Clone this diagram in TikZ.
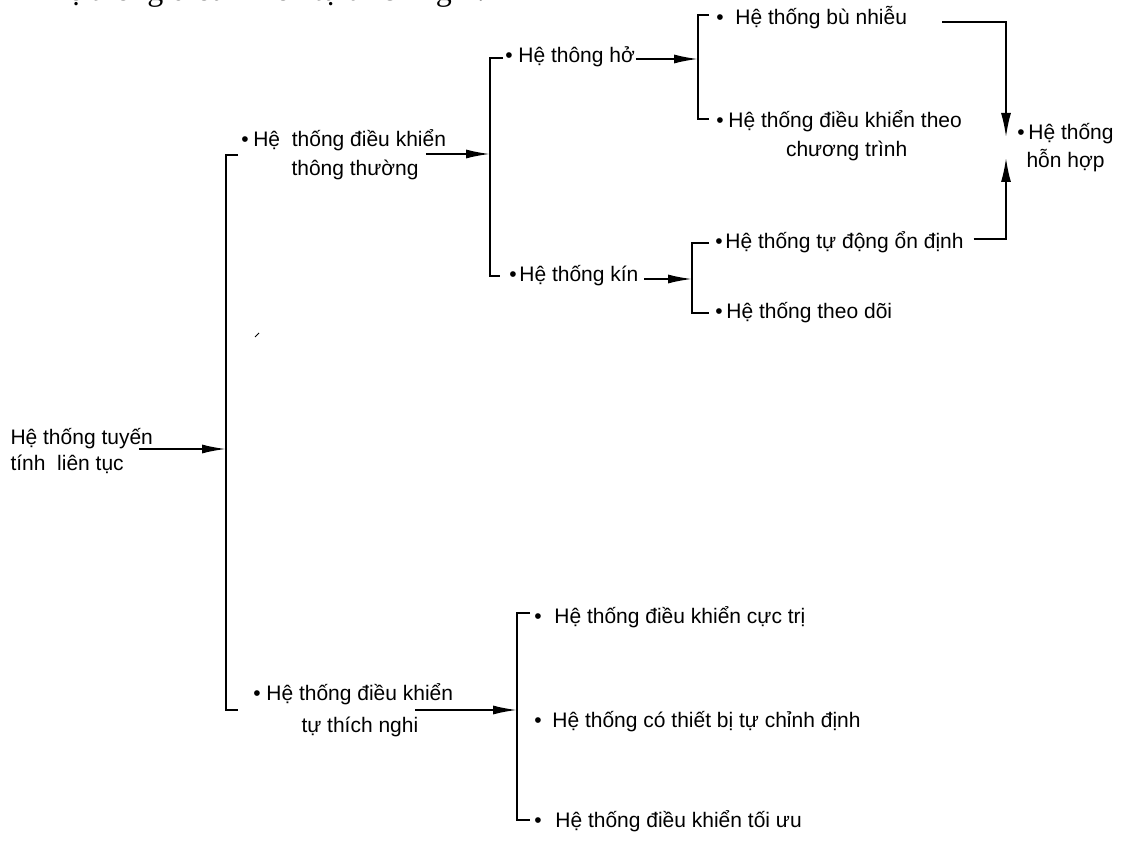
\documentclass[tikz,border=0pt]{standalone}
\usepackage{fontspec}
\setmainfont{Liberation Sans}
\newfontfamily\headfont{Liberation Serif}
\usetikzlibrary{arrows.meta}
\begin{document}
\begin{tikzpicture}[x=1pt,y=-1pt,
  lbl/.style={anchor=base west, inner sep=0pt, outer sep=0pt, font=\fontsize{21}{26}\selectfont},
  wire/.style={line width=1.7pt},
  brk/.style={line width=2pt},
  arr/.style={wire, -{Latex[length=24pt,width=9pt]}},
  varr/.style={wire, -{Latex[length=24pt,width=10pt]}},
  speck/.style={line width=1pt}]
\useasboundingbox (0,0) rectangle (1122,842);
\fill[white] (0,0) rectangle (1122,842);
% heading, cut off by the top edge as in the reference
\begin{scope}
\clip (0,0) rectangle (1122,842);
\node[anchor=base west, inner sep=0pt, font=\headfont\fontsize{32}{38}\selectfont] (head) at (45,1) {Hệ thống điều khiển tự thích nghi.};
\end{scope}
% labels
\node[lbl] (r1) at (10.5,444) {Hệ thống tuyến};
\node[lbl] (r2) at (10.5,470) {tính\ \ liên tục};
\node[lbl] (c1) at (241.3,147) {•\hspace{4.7pt}Hệ\ \ thống điều khiển};
\node[lbl] (c2) at (291.5,176) {thông thường};
\node[lbl] (h) at (505.3,63) {•\hspace{5.7pt}Hệ thông hở};
\node[lbl] (k) at (509.3,282) {•\hspace{2.7pt}Hệ thống kín};
\node[lbl] (b) at (716.3,25) {•\hspace{11.7pt}Hệ thống bù nhiễu};
\node[lbl] (p1) at (716.3,128) {•\hspace{4.7pt}Hệ thống điều khiển theo};
\node[lbl] (p2) at (786,157) {chương trình};
\node[lbl] (t) at (715.3,249) {•\hspace{2.7pt}Hệ thống tự động ổn định};
\node[lbl] (d) at (715.3,319) {•\hspace{3.7pt}Hệ thống theo dõi};
\node[lbl] (m1) at (1017.3,140) {•\hspace{3.7pt}Hệ thống};
\node[lbl] (m2) at (1026.5,168) {hỗn hợp};
\node[lbl] (a1) at (253.3,700) {•\hspace{5.7pt}Hệ thống điều khiển};
\node[lbl] (a2) at (301.5,732) {tự thích nghi};
\node[lbl] (e1) at (534.3,623) {•\hspace{12.7pt}Hệ thống điều khiển cực trị};
\node[lbl] (e2) at (534.3,727) {•\hspace{10.7pt}Hệ thống có thiết bị tự chỉnh định};
\node[lbl] (e3) at (534.3,827) {•\hspace{13.7pt}Hệ thống điều khiển tối ưu};
% main bracket
\coordinate (M1) at (226,155); \coordinate (M2) at (226,710);
\coordinate (M1t) at (238,155); \coordinate (M2t) at (238,710);
\draw[brk] (M1t) -- (M1) -- (M2) -- (M2t);
% bracket of the usual systems
\coordinate (B1) at (490,58); \coordinate (B1b) at (490,276);
\coordinate (B1t) at (503,58); \coordinate (B1bt) at (500,276);
\draw[brk] (B1t) -- (B1) -- (B1b) -- (B1bt);
% bracket of the open systems
\coordinate (B2) at (698,15); \coordinate (B2b) at (698,119);
\coordinate (B2t) at (709,15); \coordinate (B2bt) at (709,119);
\draw[brk] (B2t) -- (B2) -- (B2b) -- (B2bt);
% bracket of the closed systems
\coordinate (B3) at (692,243); \coordinate (B3b) at (692,313);
\coordinate (B3t) at (709,243); \coordinate (B3bt) at (709,313);
\draw[brk] (B3t) -- (B3) -- (B3b) -- (B3bt);
% bracket of the adaptive systems
\coordinate (B4) at (517,613); \coordinate (B4b) at (517,820);
\coordinate (B4t) at (530,613); \coordinate (B4bt) at (530,820);
\draw[brk] (B4t) -- (B4) -- (B4b) -- (B4bt);
% arrows into the brackets
\coordinate (rs) at ([xshift=-14pt,yshift=-5pt]r1.base east);
\draw[arr] (rs) -- (rs -| M1);
\coordinate (cs) at ([xshift=-20pt,yshift=-7pt]c1.base east);
\draw[arr] (cs) -- (cs -| B1);
\coordinate (hs) at ([xshift=1pt,yshift=4pt]h.base east);
\draw[arr] (hs) -- (hs -| B2);
\coordinate (ks) at ([xshift=6pt,yshift=3pt]k.base east);
\draw[arr] (ks) -- (ks -| B3);
\coordinate (as) at ([xshift=-38pt,yshift=-10pt]a1.base east);
\draw[arr] (as) -- (as -| B4);
% arrows to the mixed system
\coordinate (bs) at ([xshift=35pt,yshift=3pt]b.base east);
\coordinate (ts) at ([xshift=10pt,yshift=10pt]t.base east);
\coordinate (mixT) at (1006,137); \coordinate (mixB) at (1006,158);
\draw[varr] (bs) -- (bs -| mixT) -- (mixT);
\draw[varr] (ts) -- (ts -| mixB) -- (mixB);
% scan speck
\coordinate (sp1) at (255,337); \coordinate (sp2) at (259,333);
\draw[speck] (sp1) -- (sp2);
\end{tikzpicture}
\end{document}
